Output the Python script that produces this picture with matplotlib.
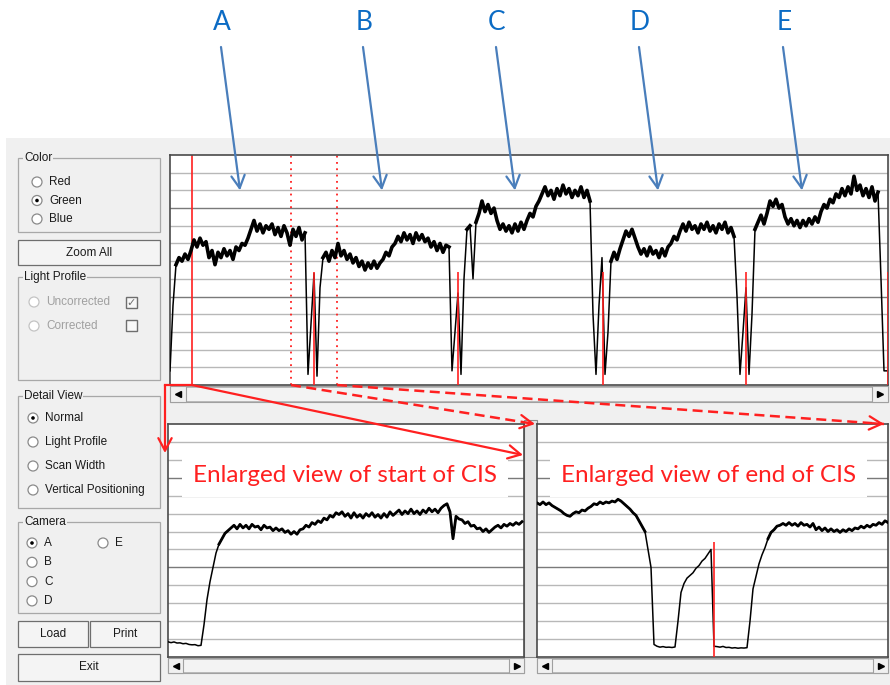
import numpy as np
import matplotlib.pyplot as plt
from matplotlib.patches import Rectangle, Circle

# values, 0..130 scale (a grid line every 10)
# overview trace: one value every 3 samples
overview = [8, 45, 68, 72, 70, 74, 71, 76, 82, 78, 83, 79, 81,
            72, 76, 68, 75, 72, 77, 73, 76, 71, 78, 76, 80, 79, 83,
            88, 93, 87, 91, 86, 90, 88, 91, 85, 89, 84, 90, 86, 79, 88, 84, 89, 82, 86,
            6, 35, 63, 5, 55, 72,
            75, 70, 76, 72, 80, 73, 76, 71, 74, 69, 72, 67, 70, 65, 69, 66, 70, 66, 69, 71,
            75, 73, 78, 80, 84, 81, 86, 82, 85, 80, 86, 82, 85, 81,
            83, 78, 81, 76, 80, 75, 79, 78,
            8, 30, 52, 6, 60, 88,
            90, 60, 92, 97, 104, 98, 102, 97, 100,
            93, 88, 91, 87, 90, 86, 91, 87, 92, 88, 93, 97, 95, 101, 104,
            108, 112, 107, 110, 105, 111, 107, 113, 108, 111, 106, 110, 107, 112, 106, 110, 104,
            40, 6, 45, 72, 6, 30, 70,
            75, 71, 77, 82, 87, 84, 88, 83,
            78, 74, 77, 73, 78, 74, 76, 72, 77, 73, 78, 80, 84, 82, 87,
            91, 87, 92, 88, 90, 86, 91, 88, 92, 87, 90, 86, 91, 88, 92, 86, 89, 84,
            50, 6, 30, 55, 6, 40, 88,
            92, 96, 91, 97, 104, 101, 105, 100, 102,
            95, 91, 94, 90, 93, 89, 93, 90, 94, 91, 95, 92,
            98, 102, 100, 105, 103, 108, 106,
            111, 107, 112, 108, 118, 110, 113, 107, 111, 106, 112, 104, 109,
            60, 8, 8]

start_view = [8.5, 8.0, 8.4, 7.8, 7.9, 7.4, 7.6, 7.0, 6.8, 6.9, 6.3, 6.5,
              18, 32, 42, 50, 58, 63, 66, 69, 70.5,
              72, 73.5, 71.5, 74, 72, 73.5, 71.5, 74, 72.5, 73, 71, 73.5, 72, 72.5, 70.5, 72,
              70.5, 71.5, 69.5, 70.5, 68.5, 70, 68.5, 71,
              71.5, 73.5, 72.5, 75, 74, 76, 75, 77.5, 76.5, 79, 78, 80.5, 79.5,
              81, 78.5, 80, 77.5, 80.5, 78, 79.5, 77.5, 80, 78.5, 80.5, 78, 79.5, 77.5, 80, 78, 81, 79,
              80.5, 82, 79.5, 81.5, 80, 82.5, 80, 81.5, 79.5, 82, 80.5, 83, 81, 82.5, 80.5, 83, 84.5, 85.5,
              81, 66, 78.5,
              77, 76.5, 74.5, 75.5, 73, 73.5, 71.5,
              72, 70, 71.5, 69.5, 71,
              72.5, 73.5, 72, 74, 73, 74.5, 73.5, 75, 74, 75.5]

end_view = [86, 85, 86.5, 85, 86, 84.5,
            83.5, 82.5, 81.5, 80, 79, 78.5,
            80, 81, 80.5, 82, 81.5, 83,
            84, 85.5, 85, 86.5, 85.5, 86.5, 86, 87, 86.5, 88, 87,
            85.5, 84, 82.5, 80.5, 79, 76, 73, 70, 60, 50,
            7, 6, 5.5, 5.8, 5.4, 5.5, 5.3, 5.6,
            20, 36, 41, 44, 45.5, 47, 49.5, 51, 53.5, 55, 57.5, 60,
            6, 5.8, 5.5, 5.9, 5.3, 5.4, 5.0, 5.2, 4.9, 5.1, 5.0, 5.2,
            20, 38, 45, 52, 57, 61, 66, 69.5, 71, 73,
            73.5, 74.5, 73.5, 75, 73.5, 74.5, 73, 75, 73.5, 74, 72.5, 74.5,
            71, 72.5, 70.5, 72, 70, 71.5, 70, 71, 69.5, 71, 70, 71.5, 70.5,
            72, 71.5, 73, 72, 73.5, 72.5, 74, 73.5, 75, 74, 76, 75]

cursor_start = 22
cursor_end = [121, 167]
seam_marks = [144, 288, 433, 576, 718]
seam_top = 64
end_mark = 177
end_mark_top = 64

cameras = ['A', 'B', 'C', 'D', 'E']
camera_x = [70, 212, 345, 488, 632]
camera_y = 110

color_opts = ['Red', 'Green', 'Blue']
profile_opts = ['Uncorrected', 'Corrected']
detail_opts = ['Normal', 'Light Profile', 'Scan Width', 'Vertical Positioning']
camera_opts = ['A', 'B', 'C', 'D']

W, H = 890, 685
RED = '#ff2020'
UI = 'Liberation Sans'
UIFS = 8.5

fig = plt.figure(figsize=(W / 100, H / 100), dpi=100)


def rect(x0, y0, x1, y1):
    return [x0 / W, 1 - y1 / H, (x1 - x0) / W, (y1 - y0) / H]


# background layer in pixel units (y down)
bg = fig.add_axes([0, 0, 1, 1])
bg.set_xlim(0, W)
bg.set_ylim(H, 0)
bg.axis('off')
bg.add_patch(Rectangle((6, 138), W - 6, H - 138, fc='#f0f0f0', ec='none'))


def group(x0, y0, x1, y1, title):
    bg.add_patch(Rectangle((x0, y0), x1 - x0, y1 - y0, fill=False, ec='#a8a8a8', lw=0.9))
    bg.text(x0 + 6, y0, title, va='center', ha='left', fontsize=UIFS, family=UI,
            color='#1a1a1a', bbox=dict(fc='#f0f0f0', ec='none', pad=0.6))


def radio(x, y, label, on=False, enabled=True):
    bg.add_patch(Circle((x, y), 5, fc='white', ec='#8a8a8a' if enabled else '#c4c4c4', lw=0.9))
    if on:
        bg.add_patch(Circle((x, y), 1.8, fc='black', ec='none'))
    bg.text(x + 12, y, label, va='center', ha='left', fontsize=UIFS, family=UI,
            color='#1a1a1a' if enabled else '#a0a0a0')


def button(x0, y0, x1, y1, label):
    bg.add_patch(Rectangle((x0, y0), x1 - x0, y1 - y0, fc='#f4f4f4', ec='#6e6e6e', lw=0.9))
    bg.text((x0 + x1) / 2, (y0 + y1) / 2, label, ha='center', va='center',
            fontsize=UIFS, family=UI, color='#1a1a1a')


def scrollbar(x0, x1, y0, y1):
    b = y1 - y0
    bg.add_patch(Rectangle((x0, y0), x1 - x0, b, fc='#e9e9e9', ec='#a0a0a0', lw=0.8))
    bg.add_patch(Rectangle((x0 + b, y0 + 1), x1 - x0 - 2 * b, b - 2, fc='#f3f3f3', ec='#b0b0b0', lw=0.6))
    bg.add_patch(Rectangle((x0, y0), b, b, fc='#f0f0f0', ec='#a0a0a0', lw=0.8))
    bg.add_patch(Rectangle((x1 - b, y0), b, b, fc='#f0f0f0', ec='#a0a0a0', lw=0.8))
    bg.plot(x0 + b / 2, (y0 + y1) / 2, marker='<', ms=4, color='black')
    bg.plot(x1 - b / 2, (y0 + y1) / 2, marker='>', ms=4, color='black')


group(18, 158, 160, 232, 'Color')
for i, lab in enumerate(color_opts):
    radio(37, 182 + i * 18.5, lab, on=(lab == 'Green'))
button(18, 240, 160, 265, 'Zoom All')
group(18, 277, 160, 380, 'Light Profile')
for i, lab in enumerate(profile_opts):
    radio(34, 302 + i * 24, lab, enabled=False)
    bg.add_patch(Rectangle((126, 297 + i * 23), 11, 11, fc='#f8f8f8', ec='#6e6e6e', lw=1))
bg.text(131.5, 302.5, '\u2713', ha='center', va='center', fontsize=8,
        family='DejaVu Sans', color='#707070')
group(18, 396, 160, 508, 'Detail View')
for i, lab in enumerate(detail_opts):
    radio(33, 418 + i * 24, lab, on=(lab == 'Normal'))
group(18, 522, 160, 613, 'Camera')
for i, lab in enumerate(camera_opts):
    radio(32, 543 + i * 19.3, lab, on=(lab == 'A'))
radio(103, 543, 'E')
button(18, 621, 88, 647, 'Load')
button(90, 621, 160, 647, 'Print')
button(18, 654, 160, 681, 'Exit')

scrollbar(170, 888, 386, 402)
scrollbar(168, 524, 658, 673)
scrollbar(537, 888, 658, 673)
bg.add_patch(Rectangle((524, 420), 13, 237, fc='#e4e4e4', ec='#8a8a8a', lw=0.8))


def trace_axes(box, n):
    ax = fig.add_axes(rect(*box))
    ax.set_xlim(0, n)
    ax.set_ylim(0, 130)
    ax.set_xticks([])
    ax.set_yticks([])
    for s in ax.spines.values():
        s.set_color('#4a4a4a')
        s.set_linewidth(1.2)
    for v in range(10, 130, 10):
        ax.axhline(v, color='#7a7a7a' if v % 50 == 0 else '#b8b8b8', lw=1, zorder=1)
    return ax


def trace(ax, vals, thick):
    # thin line everywhere, noisy band only on the lit plateaus
    x = np.arange(len(vals)) * 3
    v = np.array(vals, dtype=float)
    ax.plot(x, v, color='black', lw=1.1, zorder=3)
    ax.plot(x, np.ma.masked_less(v, 62), color='black', lw=thick, zorder=3)


top_ax = trace_axes((170, 155, 888, 385), 718)
top_ax.axvline(cursor_start, color=RED, lw=1.2, zorder=2)
for c in cursor_end:
    top_ax.axvline(c, color=RED, lw=1.3, ls=(0, (1, 2.5)), zorder=2)
trace(top_ax, overview, 2.6)
top_ax.vlines(seam_marks, 0, seam_top, color=RED, lw=1.2, zorder=4)

bl = trace_axes((168, 424, 524, 657), 356)
trace(bl, start_view, 2.0)
bl.text(0.497, 0.78, 'Enlarged view of start of CIS', transform=bl.transAxes,
        ha='center', va='center', fontsize=17.5, family='Lato', color=RED, zorder=2,
        bbox=dict(boxstyle='square,pad=0.45', fc='white', ec='none'))

br = trace_axes((537, 424, 888, 657), 351)
trace(br, end_view, 2.0)
br.vlines(end_mark, 0, end_mark_top, color=RED, lw=1.2, zorder=4)
br.text(0.49, 0.78, 'Enlarged view of end of CIS', transform=br.transAxes,
        ha='center', va='center', fontsize=17.5, family='Lato', color=RED, zorder=2,
        bbox=dict(boxstyle='square,pad=0.45', fc='white', ec='none'))

# overlay for the callouts
ov = fig.add_axes([0, 0, 1, 1])
ov.set_xlim(0, W)
ov.set_ylim(H, 0)
ov.axis('off')


def to_ov(ax, xy):
    return ov.transData.inverted().transform(ax.transData.transform(xy))


def head(color, ls='-'):
    return dict(arrowstyle='->,head_length=0.75,head_width=0.4', color=color, lw=1.6,
                shrinkA=0, shrinkB=0, mutation_scale=12, linestyle=ls)


for lab, cx in zip(cameras, camera_x):
    tx, ty = to_ov(top_ax, (cx, camera_y))
    ov.annotate('', xy=(tx, ty), xytext=(tx - 19, 47), arrowprops=head('#4a7ebb'))
    ov.text(tx - 18, 22, lab, ha='center', va='center', fontsize=19,
            family='Lato', color='#0b6bc4')

sx, sy = to_ov(top_ax, (cursor_start, 0))
ov.plot([sx, 165], [sy, sy], color=RED, lw=1.6)
ov.annotate('', xy=(165, 453), xytext=(165, sy), arrowprops=head(RED))
ov.annotate('', xy=(523, 455), xytext=(sx, sy), arrowprops=head(RED))

for c, end in zip(cursor_end, [(535, 424), (884, 424)]):
    px, py = to_ov(top_ax, (c, 0))
    ex, ey = end
    ov.plot([px, ex], [py, ey], color=RED, lw=1.8, dashes=(4, 2.2))
    ov.annotate('', xy=(ex, ey), xytext=(ex - 0.02 * (ex - px), ey - 0.02 * (ey - py)),
                arrowprops=head(RED))

fig.savefig('out.png', dpi=100)
